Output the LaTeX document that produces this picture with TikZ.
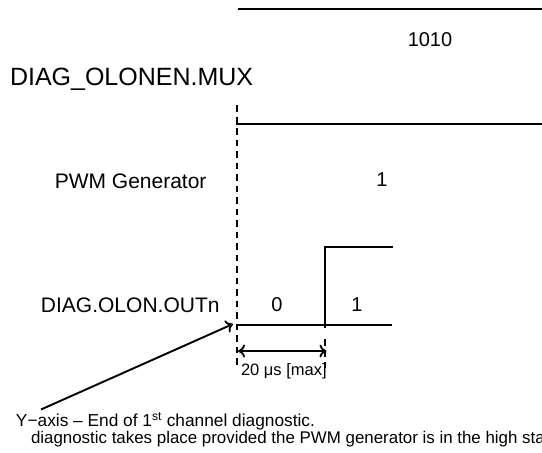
\documentclass[tikz,border=0pt]{standalone}
\usepackage{fontspec}
\setmainfont{Liberation Sans}
\usetikzlibrary{arrows.meta}
\begin{document}
\begin{tikzpicture}[x=1pt,y=-1pt,
  sig/.style={line width=2pt},
  vdash/.style={line width=1.8pt, dash pattern=on 6.5pt off 5pt},
  lbl/.style={inner sep=0pt, outer sep=0pt},
  big/.style={font=\fontsize{25}{28}\selectfont},
  mid/.style={font=\fontsize{21}{24}\selectfont},
  num/.style={font=\fontsize{20}{22}\selectfont},
  small/.style={font=\fontsize{17.3}{19}\selectfont},
  tip/.style={-{To[length=7pt,width=13pt,line width=1.8pt]}, line width=1.9pt}
]
\useasboundingbox (0,0) rectangle (542,453);
% coordinates
\coordinate (t0) at (238,8.6);
\coordinate (t1) at (542,8.6);
\coordinate (m0) at (236,124.4);
\coordinate (m1) at (542,124.4);
\coordinate (lo0) at (236,324.5);
\coordinate (lo1) at (392,324.5);
\coordinate (st0) at (325,328);
\coordinate (st1) at (325,247.3);
\coordinate (hi1) at (393,247.3);
\coordinate (dA) at (236.8,105);
\coordinate (dB) at (236.8,368);
\coordinate (eA) at (325,339);
\coordinate (eB) at (325,368);
\coordinate (w0) at (238,351);
\coordinate (w1) at (326.5,351);
\coordinate (p0) at (41,409.5);
\coordinate (p1) at (233,324);
% labels
\node[lbl,big,anchor=base west] (mux) at (10,85) {DIAG\_OLONEN.MUX};
\node[lbl,num,anchor=base] (v1010) at (430,46.7) {1010};
\node[lbl,mid,anchor=base east] (pwm) at (206.5,188) {PWM Generator};
\node[lbl,num,anchor=base] (v1) at (382,186) {1};
\node[lbl,mid,anchor=base east] (out) at (219.5,312) {DIAG.OLON.OUTn};
\node[lbl,num,anchor=base] (v0b) at (277,311) {0};
\node[lbl,num,anchor=base] (v1b) at (357,311) {1};
\node[lbl,font=\fontsize{16.5}{18}\selectfont,anchor=base west] (dim) at (241,375) {20 μs [max]};
\node[lbl,small,anchor=base west] (note1) at (16,426.7) {Y−axis – End of 1\textsuperscript{st} channel diagnostic.};
\node[lbl,font=\fontsize{16.9}{19}\selectfont,anchor=base west] (note2) at (31,443.5) {diagnostic takes place provided the PWM generator is in the high state};
% signals
\draw[sig] (t0) -- (t1);
\draw[sig] (m0) -- (m1);
\draw[sig] (lo0) -- (lo1);
\draw[sig] (st0) -- (st1) -- (hi1);
% dashed markers
\draw[vdash] (dA) -- (dB);
\draw[vdash] (eA) -- (eB);
% dimension
\draw[{To[length=7pt,width=13pt,line width=1.8pt]}-{To[length=7pt,width=13pt,line width=1.8pt]}, line width=1.9pt] (w0) -- (w1);
% pointer
\draw[tip] (p0) -- (p1);
\end{tikzpicture}
\end{document}
